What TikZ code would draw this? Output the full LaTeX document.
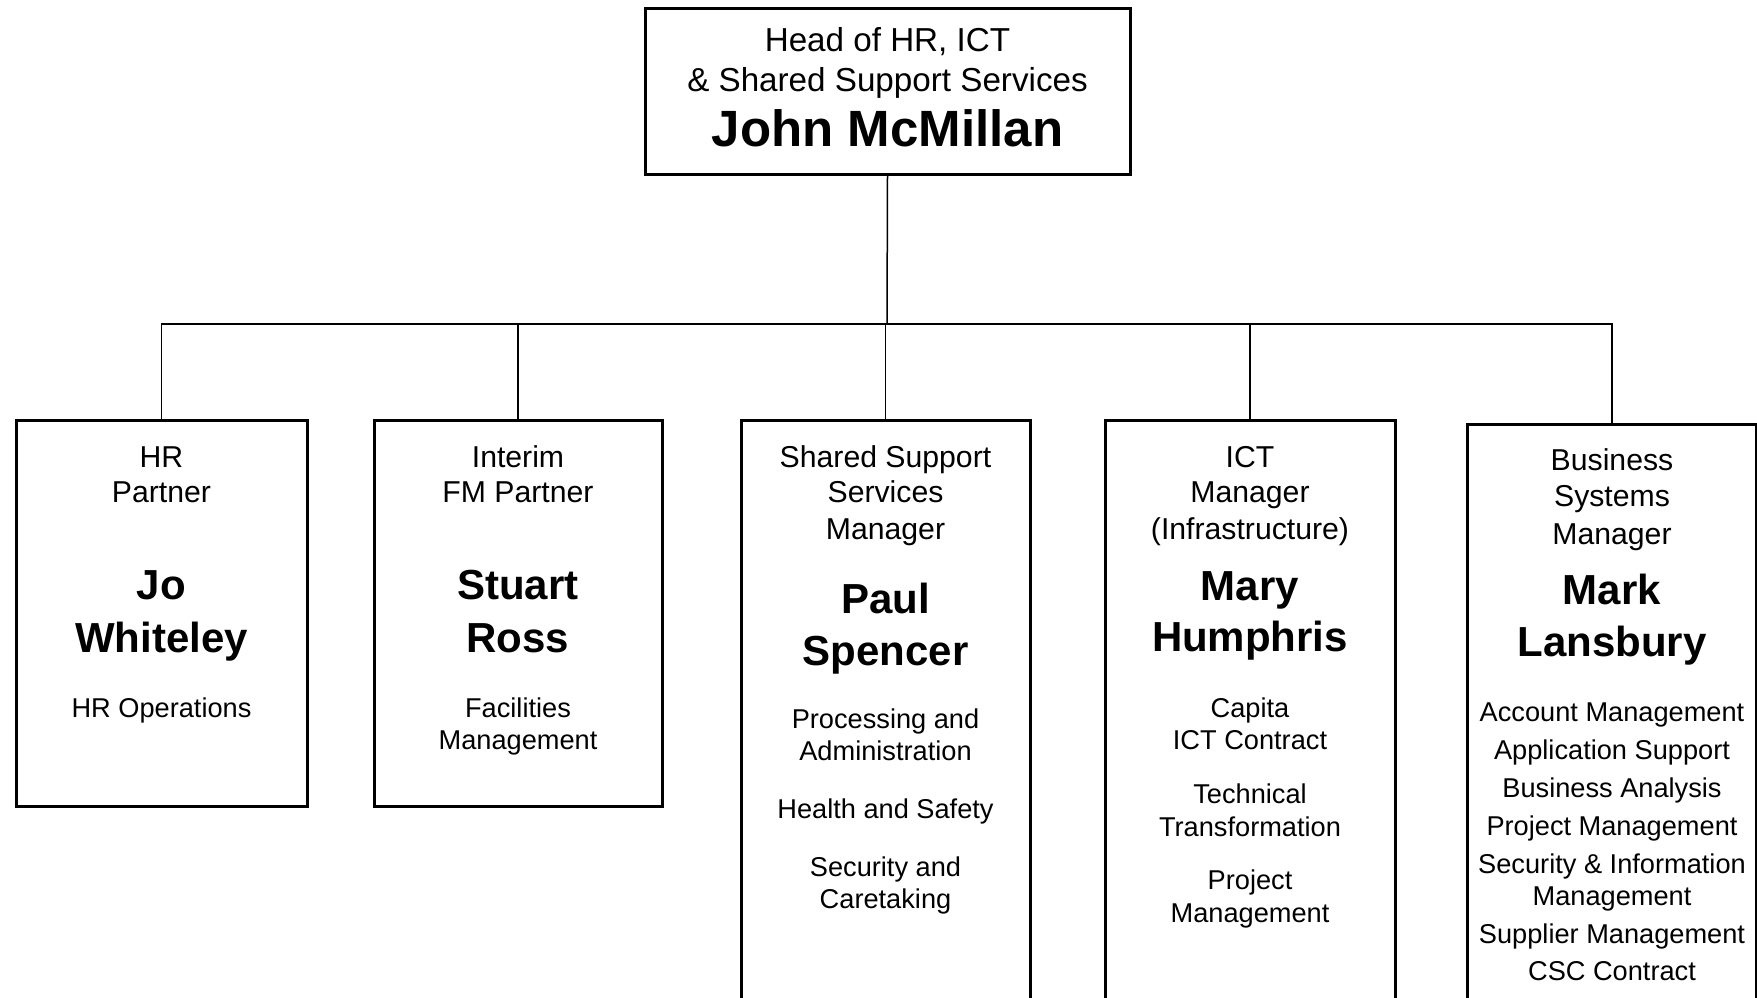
\documentclass[tikz,border=0pt]{standalone}
\usepackage{fontspec}
\setmainfont{Liberation Sans}
\begin{document}
\begin{tikzpicture}[x=0.5pt,y=-0.5pt,
  box/.style={draw, line width=1.5pt, inner sep=0pt, fill=none},
  conn/.style={line width=0.75pt},
  toptitle/.style={anchor=base, inner sep=0pt, font=\fontsize{16.6}{19}\selectfont},
  topname/.style={anchor=base, inner sep=0pt, font=\fontsize{25.5}{29}\selectfont\bfseries},
  ttl/.style={anchor=base, inner sep=0pt, font=\fontsize{15.1}{18}\selectfont},
  nm/.style={anchor=base, inner sep=0pt, font=\fontsize{21}{24}\selectfont\bfseries},
  det/.style={anchor=base, inner sep=0pt, font=\fontsize{13.6}{16}\selectfont}]
\useasboundingbox (0,0) rectangle (1757,997);
\clip (0,0) rectangle (1757,997);
\fill[white] (0,0) rectangle (1757,997);

% boxes
\node[box, minimum width=242.5pt, minimum height=83pt] (top) at (887.5,91) {};
\node[box, minimum width=145.5pt, minimum height=193pt] (b1) at (161.5,613) {};
\node[box, minimum width=144pt, minimum height=193pt] (b2) at (518,613) {};
\node[box, minimum width=144.5pt, minimum height=300pt] (b3) at (885.5,720) {};
\node[box, minimum width=145pt, minimum height=300pt] (b4) at (1250,720) {};
\node[box, minimum width=144.5pt, minimum height=298pt] (b5) at (1612,722) {};

% connectors
\coordinate (bus) at (887,324);
\draw[conn] (top.south) -- (bus);
\foreach \b in {b1,b2,b3,b4,b5} \draw[conn] (bus) -| (\b.north);

% top box text
\node[toptitle] (t1) at (887.5,51) {Head of HR, ICT};
\node[toptitle] (t2) at (887.5,91.5) {\& Shared Support Services};
\node[topname] (t3) at (887.5,146) {John McMillan};

% box 1
\node[ttl] (a1) at (161.5,467) {HR};
\node[ttl] (a2) at (161.5,502.5) {Partner};
\node[nm] (a3) at (161.5,599) {Jo};
\node[nm] (a4) at (161.5,652) {Whiteley};
\node[det] (a5) at (161.5,717) {HR Operations};

% box 2
\node[ttl] (c1) at (518,467) {Interim};
\node[ttl] (c2) at (518,502.5) {FM Partner};
\node[nm] (c3) at (518,599) {Stuart};
\node[nm] (c4) at (518,652) {Ross};
\node[det] (c5) at (518,717) {Facilities};
\node[det] (c6) at (518,749.5) {Management};

% box 3
\node[ttl] (d1) at (885.5,467) {Shared Support};
\node[ttl] (d2) at (885.5,502.5) {Services};
\node[ttl] (d3) at (885.5,539.5) {Manager};
\node[nm] (d4) at (885.5,613.5) {Paul};
\node[nm] (d5) at (885.5,665) {Spencer};
\node[det] (d6) at (885.5,728) {Processing and};
\node[det] (d7) at (885.5,760) {Administration};
\node[det] (d8) at (885.5,818) {Health and Safety};
\node[det] (d9) at (885.5,876) {Security and};
\node[det] (d10) at (885.5,908.5) {Caretaking};

% box 4
\node[ttl] (e1) at (1250,467) {ICT};
\node[ttl] (e2) at (1250,502.5) {Manager};
\node[ttl] (e3) at (1250,539.5) {(Infrastructure)};
\node[nm] (e4) at (1250,600) {Mary};
\node[nm] (e5) at (1250,651) {Humphris};
\node[det] (e6) at (1250,717) {Capita};
\node[det] (e7) at (1250,749.5) {ICT Contract};
\node[det] (e8) at (1250,803) {Technical};
\node[det] (e9) at (1250,836) {Transformation};
\node[det] (e10) at (1250,889.5) {Project};
\node[det] (e11) at (1250,922) {Management};

% box 5
\node[ttl] (f1) at (1612,470) {Business};
\node[ttl] (f2) at (1612,506.5) {Systems};
\node[ttl] (f3) at (1612,544) {Manager};
\node[nm] (f4) at (1612,604) {Mark};
\node[nm] (f5) at (1612,656) {Lansbury};
\node[det] (f6) at (1612,721.5) {Account Management};
\node[det] (f7) at (1612,759.5) {Application Support};
\node[det] (f8) at (1612,797.5) {Business Analysis};
\node[det] (f9) at (1612,835) {Project Management};
\node[det] (f10) at (1612,873) {Security \& Information};
\node[det] (f11) at (1612,905) {Management};
\node[det] (f12) at (1612,943) {Supplier Management};
\node[det] (f13) at (1612,980) {CSC Contract};
\end{tikzpicture}
\end{document}
